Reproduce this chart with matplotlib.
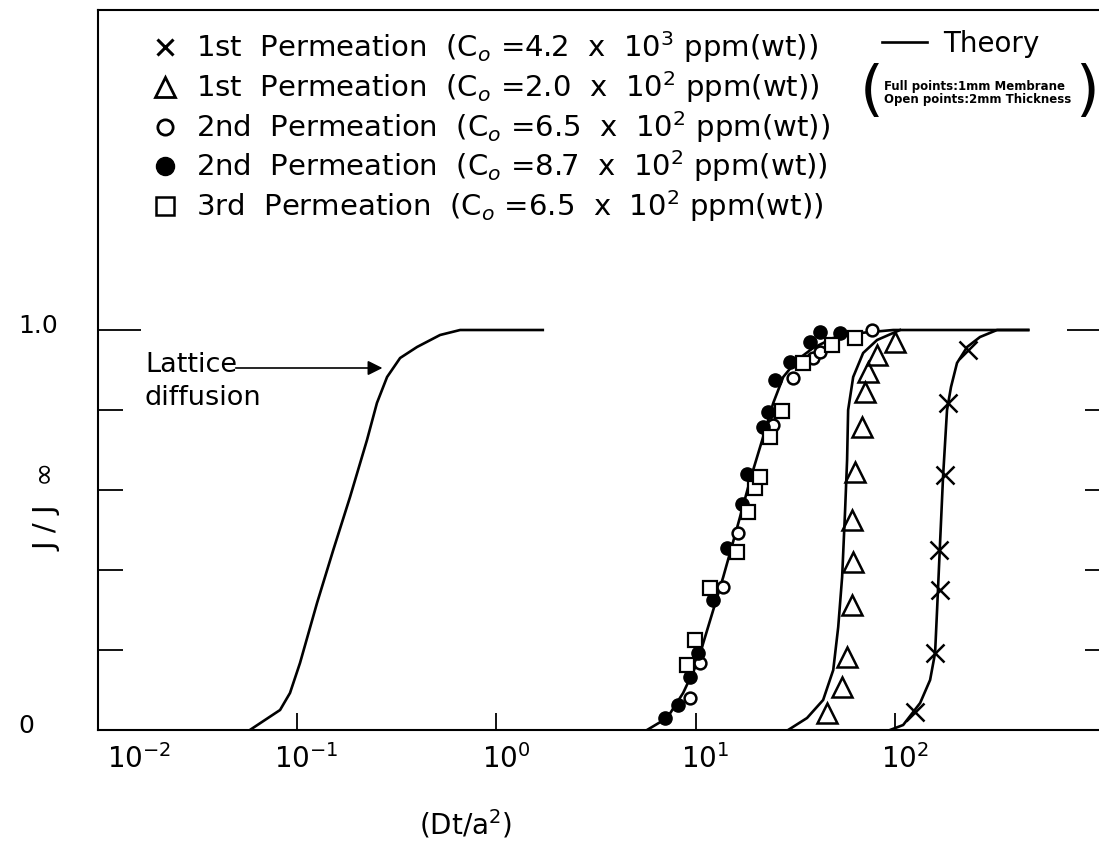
import matplotlib.pyplot as plt
import matplotlib.transforms as mtransforms
from matplotlib.lines import Line2D

# theory curves
lattice_x = [0.058, 0.0822, 0.0922, 0.1035, 0.126, 0.152, 0.1845, 0.2244, 0.2517,
             0.283, 0.329, 0.400, 0.522, 0.658, 1.71]
lattice_y = [0.0, 0.05, 0.0925, 0.1675, 0.3175, 0.45, 0.5825, 0.725, 0.8175,
             0.8825, 0.93, 0.9575, 0.9875, 1.0, 1.0]

theory2_x = [5.70, 7.19, 8.65, 10.18, 11.83, 13.75, 16.17, 18.76, 21.8, 24.5,
             27.5, 32.3, 38.8, 49.0, 66.8, 97.9, 466]
theory2_y = [0.0, 0.03, 0.0925, 0.1675, 0.275, 0.3825, 0.5075, 0.625, 0.7325, 0.8175,
             0.8825, 0.925, 0.955, 0.98, 0.9925, 1.0, 1.0]

theory1a_x = [29.1, 36.2, 43.6, 49.0, 51.9, 54.3, 56.2, 57.5, 58.2, 61.7, 69.2, 81.3, 97.9, 106]
theory1a_y = [0.0, 0.03, 0.075, 0.15, 0.2575, 0.3825, 0.55, 0.675, 0.8, 0.8825,
              0.9425, 0.975, 0.9925, 1.0]

theory1b_x = [94.4, 109.9, 133.7, 150, 158.9, 162.6, 168.3, 174.2, 182.4, 191,
              204.7, 230, 267, 325, 466]
theory1b_y = [0.0, 0.0125, 0.0675, 0.125, 0.1925, 0.3, 0.4675, 0.6325, 0.8, 0.8575,
              0.9175, 0.9575, 0.9825, 1.0, 1.0]

# measured points
p1_hi_x = [126.2, 158.9, 168.3, 166.4, 178.2, 184.6, 232.8]
p1_hi_y = [0.045, 0.1925, 0.35, 0.45, 0.6375, 0.8175, 0.95]

p1_lo_x = [45.6, 54.3, 57.5, 60.9, 61.7, 60.9, 63.1, 68.4, 70.8, 73.3, 81.3, 100]
p1_lo_y = [0.0425, 0.1075, 0.1825, 0.3125, 0.42, 0.525, 0.645, 0.7575, 0.845, 0.895, 0.9375, 0.97]

p2_open_x = [9.38, 10.52, 13.75, 16.32, 24.5, 30.8, 34.2, 38.8, 42.1, 76.7]
p2_open_y = [0.08, 0.1675, 0.3575, 0.4925, 0.7625, 0.88, 0.9175, 0.93, 0.945, 1.0]

p2_full_x = [7.02, 8.16, 9.38, 10.28, 12.22, 14.38, 17.06, 18.1, 21.8, 23.1, 25.0,
             29.7, 37.5, 42.1, 53.0]
p2_full_y = [0.03, 0.0625, 0.1325, 0.1925, 0.325, 0.455, 0.565, 0.64, 0.7575, 0.795,
             0.875, 0.92, 0.97, 0.995, 0.9925]

p3_x = [9.06, 9.93, 11.83, 16.17, 18.3, 19.9, 21.0, 23.6, 27.2, 34.6, 48.3, 63.1]
p3_y = [0.1625, 0.225, 0.355, 0.445, 0.545, 0.605, 0.6325, 0.7325, 0.7975, 0.9175, 0.9625, 0.98]

legend_labels = [
    "1st  Permeation  (C$_o$ =4.2  x  10$^3$ ppm(wt))",
    "1st  Permeation  (C$_o$ =2.0  x  10$^2$ ppm(wt))",
    "2nd  Permeation  (C$_o$ =6.5  x  10$^2$ ppm(wt))",
    "2nd  Permeation  (C$_o$ =8.7  x  10$^2$ ppm(wt))",
    "3rd  Permeation  (C$_o$ =6.5  x  10$^2$ ppm(wt))",
]
xticks = [0.01, 0.1, 1, 10, 100]
xtick_labels = ["$10^{-2}$", "$10^{-1}$", "$10^{0}$", "$10^{1}$", "$10^{2}$"]

fig = plt.figure(figsize=(10.99, 8.46), dpi=100)
ax = fig.add_axes([97.7 / 1099, 116 / 846, 1012.4 / 1099, 720 / 846])

lw = 1.9
ax.plot(lattice_x, lattice_y, 'k-', lw=lw)
theory, = ax.plot(theory2_x, theory2_y, 'k-', lw=lw)
ax.plot(theory1a_x, theory1a_y, 'k-', lw=lw)
ax.plot(theory1b_x, theory1b_y, 'k-', lw=lw)

ax.plot(p1_hi_x, p1_hi_y, 'x', color='k', ms=13, mew=1.8, ls='none')
ax.plot(p1_lo_x, p1_lo_y, '^', mfc='none', mec='k', ms=14, mew=1.8, ls='none')
ax.plot(p2_open_x, p2_open_y, 'o', mfc='white', mec='k', ms=8.5, mew=1.8, ls='none')
ax.plot(p2_full_x, p2_full_y, 'o', color='k', ms=9.5, ls='none')
ax.plot(p3_x, p3_y, 's', mfc='white', mec='k', ms=9.5, mew=1.6, ls='none')

# legend symbols are drawn larger than the plotted points
leg_handles = [
    Line2D([], [], marker='x', color='k', ms=12, mew=2.2, ls='none'),
    Line2D([], [], marker='^', mfc='none', mec='k', ms=14, mew=2.0, ls='none'),
    Line2D([], [], marker='o', mfc='none', mec='k', ms=11, mew=2.0, ls='none'),
    Line2D([], [], marker='o', color='k', ms=13, ls='none'),
    Line2D([], [], marker='s', mfc='none', mec='k', ms=13, mew=1.8, ls='none'),
]

ax.set_xscale('log')
ax.set_xlim(0.01, 1200)
ax.set_ylim(0, 1.8)

ax.set_xticks(xticks)
ax.set_xticklabels(xtick_labels, fontsize=20)
ax.minorticks_off()
ax.set_yticks([0, 1.0])
ax.set_yticklabels(['0', '1.0'], fontsize=18)
ax.set_yticks([0.2, 0.4, 0.6, 0.8], minor=True)
ax.tick_params(axis='x', which='major', direction='in', length=12, width=1.3, pad=10)
ax.tick_params(axis='y', which='major', direction='in', length=31, width=1.3,
               right=True, pad=57)
ax.tick_params(axis='y', which='minor', direction='in', length=18, width=1.3, right=True)
yoff = mtransforms.ScaledTranslation(0, 5 / 72, fig.dpi_scale_trans)
for lab in ax.get_yticklabels():
    lab.set_ha('left')
    lab.set_transform(lab.get_transform() + yoff)
offset = mtransforms.ScaledTranslation(7 / 72, 0, fig.dpi_scale_trans)
for lab in ax.get_xticklabels():
    lab.set_transform(lab.get_transform() + offset)
ax.get_xticklabels()[0].set_ha('left')
for sp in ax.spines.values():
    sp.set_linewidth(1.5)

ax.set_xlabel('(Dt/a$^2$)', fontsize=20)
ax.xaxis.set_label_coords(0.363, -0.108)
ax.set_ylabel('J / J  \u221e', fontsize=21)
ax.yaxis.set_label_coords(-0.0353, 0.31)

# lattice diffusion note
ax.text(0.01726, 0.895, 'Lattice', fontsize=19.5, va='baseline')
ax.text(0.01726, 0.8125, 'diffusion', fontsize=19.5, va='baseline')
ax.annotate('', xy=(0.277, 0.905), xytext=(0.0477, 0.905),
            arrowprops=dict(arrowstyle='-|>', color='k', lw=1.2, mutation_scale=22))

leg1 = ax.legend(leg_handles, legend_labels, loc='upper left',
                 bbox_to_anchor=(0.052, 0.973), frameon=False, fontsize=21,
                 handlelength=1.0, handletextpad=0.55, labelspacing=0.13,
                 borderpad=0, borderaxespad=0)
ax.add_artist(leg1)
ax.legend([theory], ['Theory'], loc='upper left', bbox_to_anchor=(0.775, 0.972),
          frameon=False, fontsize=20, handlelength=1.6, handletextpad=0.6,
          borderpad=0, borderaxespad=0)

ax.text(0.777, 0.885, 'Full points:1mm Membrane\nOpen points:2mm Thickness',
        transform=ax.transAxes, fontsize=8.5, fontweight='bold', va='center',
        ha='left', linespacing=1.0)
ax.text(0.765, 0.885, '(', transform=ax.transAxes, fontsize=44, va='center', ha='center')
ax.text(0.977, 0.885, ')', transform=ax.transAxes, fontsize=44, va='center', ha='center')

fig.savefig('out.png', dpi=100, facecolor='white')
